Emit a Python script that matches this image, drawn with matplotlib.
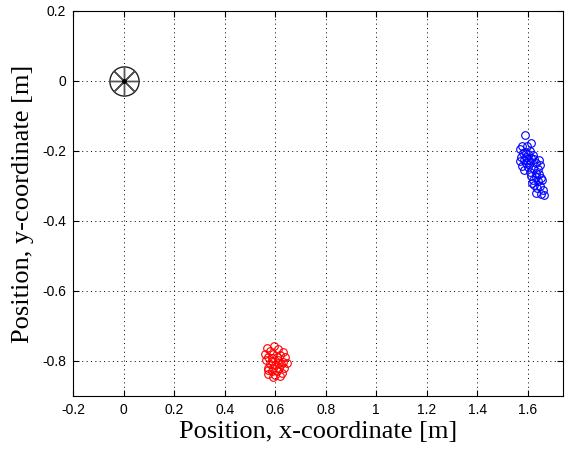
import matplotlib
matplotlib.use("Agg")
import matplotlib.pyplot as plt

# positions [m]
origin_x = [0.0]
origin_y = [0.0]

red_x = [0.597, 0.566, 0.612, 0.579, 0.632, 0.560, 0.593, 0.619, 0.573, 0.606,
         0.639, 0.562, 0.586, 0.612, 0.632, 0.579, 0.599, 0.623, 0.570, 0.593,
         0.615, 0.636, 0.586, 0.606, 0.626, 0.573, 0.599, 0.619, 0.593, 0.570,
         0.645, 0.610, 0.589]
red_y = [-0.757, -0.762, -0.767, -0.771, -0.773, -0.781, -0.779, -0.783, -0.788, -0.790,
         -0.790, -0.798, -0.800, -0.798, -0.802, -0.809, -0.811, -0.809, -0.819, -0.821,
         -0.819, -0.821, -0.828, -0.830, -0.833, -0.836, -0.840, -0.843, -0.847, -0.827,
         -0.805, -0.805, -0.792]

blue_x = [1.590, 1.614, 1.579, 1.597, 1.568, 1.588, 1.608, 1.581, 1.601, 1.621,
          1.575, 1.594, 1.614, 1.584, 1.605, 1.627, 1.644, 1.568, 1.592, 1.610,
          1.634, 1.647, 1.579, 1.601, 1.621, 1.641, 1.584, 1.608, 1.631, 1.644,
          1.614, 1.634, 1.654, 1.621, 1.641, 1.658, 1.627, 1.647, 1.618, 1.637,
          1.660, 1.631, 1.654, 1.663]
blue_y = [-0.154, -0.178, -0.185, -0.187, -0.195, -0.202, -0.199, -0.206, -0.208, -0.211,
          -0.216, -0.218, -0.221, -0.225, -0.227, -0.224, -0.225, -0.230, -0.233, -0.235,
          -0.233, -0.240, -0.244, -0.246, -0.249, -0.252, -0.254, -0.259, -0.262, -0.265,
          -0.271, -0.275, -0.278, -0.283, -0.287, -0.284, -0.297, -0.300, -0.292, -0.306,
          -0.311, -0.319, -0.322, -0.325]

x_ticks = [-0.2, 0, 0.2, 0.4, 0.6, 0.8, 1, 1.2, 1.4, 1.6]
y_ticks = [0.2, 0, -0.2, -0.4, -0.6, -0.8]


def _fmt(v):
    s = f"{v:g}"
    return "0" if s == "-0" else s


fig = plt.figure(figsize=(5.67, 4.5), dpi=100)
ax = fig.add_axes([0.129, 0.12, 0.864, 0.8556])

ax.plot(red_x, red_y, "o", ls="none", mfc="none", mec="red", ms=5.5, mew=0.8)
ax.plot(blue_x, blue_y, "o", ls="none", mfc="none", mec="blue", ms=5.5, mew=0.8)

# source marker: circle with asterisk
ax.plot(origin_x, origin_y, "o", ls="none", mfc="none", mec="#222222", ms=21, mew=1.0)
ax.plot(origin_x, origin_y, marker=(8, 2, 0), ls="none", mec="#555555", ms=21, mew=1.0)
ax.plot(origin_x, origin_y, "o", ls="none", mfc="black", mec="black", ms=2.5)

ax.set_xlim(-0.2, 1.74)
ax.set_ylim(-0.9, 0.2)
ax.set_xticks(x_ticks)
ax.set_yticks(y_ticks)
ax.set_xticklabels([_fmt(v) for v in x_ticks], fontfamily="Liberation Sans", fontsize=10)
ax.set_yticklabels([_fmt(v) for v in y_ticks], fontfamily="Liberation Sans", fontsize=10)

ax.tick_params(direction="in", top=True, right=True, length=4, width=0.8, pad=5)
ax.grid(True, color="black", linestyle=(0, (1, 3.5)), linewidth=0.7)
for sp in ax.spines.values():
    sp.set_linewidth(0.8)

ax.set_xlabel("Position, x-coordinate [m]", fontfamily="Liberation Serif", fontsize=19, labelpad=3)
ax.set_ylabel("Position, y-coordinate [m]", fontfamily="Liberation Serif", fontsize=19, labelpad=6)

fig.savefig("out.png", dpi=100)
